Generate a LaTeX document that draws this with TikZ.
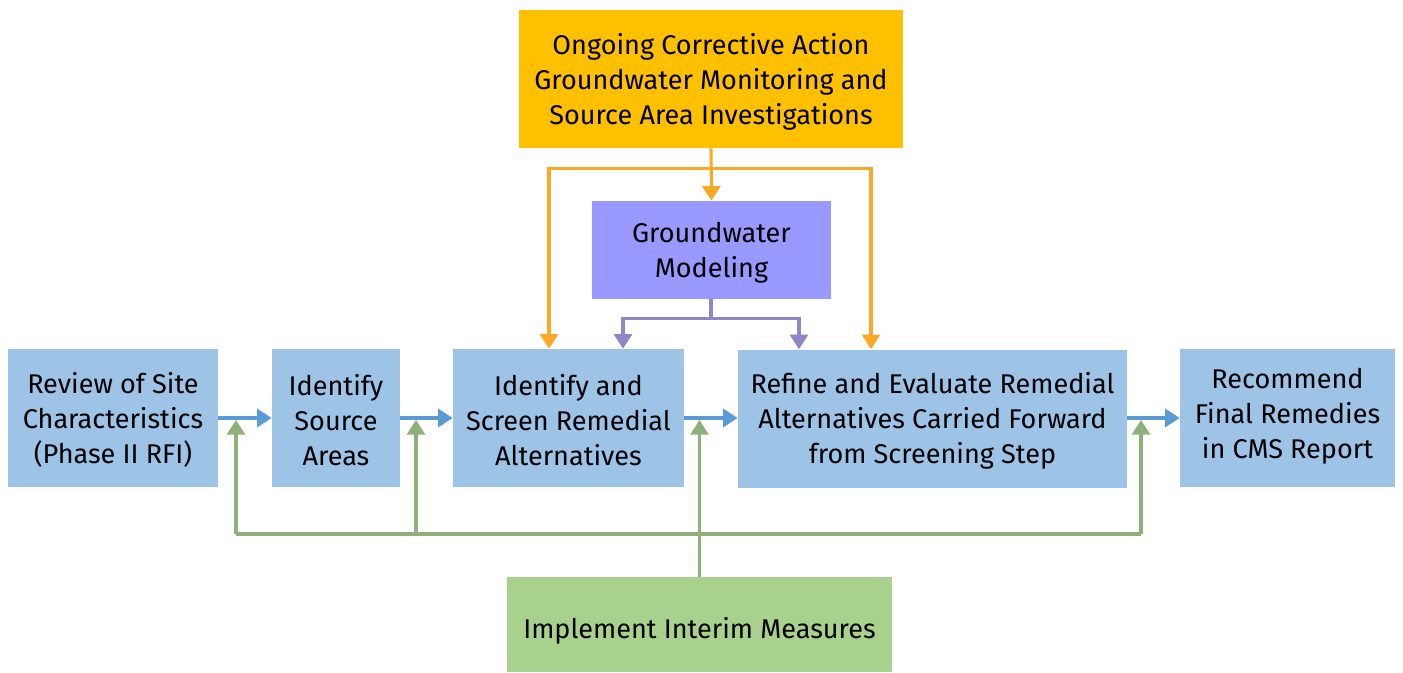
\documentclass[tikz,border=0pt]{standalone}
\usepackage{fontspec}
\setmainfont{Fira Sans}
\usetikzlibrary{arrows.meta}
\definecolor{boxblue}{HTML}{9DC3E6}
\definecolor{arrowblue}{HTML}{5B9BD5}
\definecolor{boxorange}{HTML}{FFC000}
\definecolor{lineorange}{HTML}{FBA824}
\definecolor{boxpurple}{HTML}{9999FF}
\definecolor{linepurple}{HTML}{8E86C6}
\definecolor{boxgreen}{HTML}{A9D18E}
\definecolor{linegreen}{HTML}{8FB07A}
% move a block of text down inside its box while keeping its box size
\newcommand\lowertext[3]{\raisebox{-#1}[\height][\depth]{\parbox{#2}{\centering #3}}}
\tikzset{
  box/.style={draw=none, inner sep=0pt, align=center, text=black,
    font=\fontsize{20.3pt}{26.25pt}\selectfont, minimum height=103.5pt},
  tip/.style={-{Triangle[length=11pt,width=13.5pt]}},
  bline/.style={draw=arrowblue, line width=2.6pt, tip, arrowblue},
  oline/.style={draw=lineorange, line width=2.3pt, lineorange},
  pline/.style={draw=linepurple, line width=2.3pt, linepurple},
  gline/.style={draw=linegreen, line width=2.3pt, linegreen},
}
\begin{document}
\begin{tikzpicture}[x=0.75pt, y=-0.75pt]
\useasboundingbox (0,0) rectangle (1403,672);
% boxes
\node[box, fill=boxorange, minimum width=288pt] (top) at (711,79)
  {\lowertext{2.25pt}{280pt}{Ongoing Corrective Action\\Groundwater Monitoring and\\Source Area Investigations}};
\node[box, fill=boxpurple, minimum width=179.25pt, minimum height=73.5pt] (gw) at (711.5,250)
  {\lowertext{2.25pt}{170pt}{Groundwater\\Modeling}};
\node[box, fill=boxblue, minimum width=157.5pt] (review) at (113,418)
  {\lowertext{1.5pt}{150pt}{Review of Site\\Characteristics\\(Phase II RFI)}};
\node[box, fill=boxblue, minimum width=96pt] (source) at (336,418)
  {\lowertext{1.5pt}{90pt}{Identify\\Source\\Areas}};
\node[box, fill=boxblue, minimum width=173.25pt] (screen) at (568.5,418)
  {\lowertext{1.5pt}{170pt}{Identify and\\Screen Remedial\\Alternatives}};
\node[box, fill=boxblue, minimum width=291.75pt] (refine) at (932.5,418.5)
  {\lowertext{1.5pt}{285pt}{Refine and Evaluate Remedial\\Alternatives Carried Forward\\from Screening Step}};
\node[box, fill=boxblue, minimum width=161.25pt] (recommend) at (1287.5,418)
  {\lowertext{-1.5pt}{155pt}{Recommend\\Final Remedies\\in CMS Report}};
\node[box, fill=boxgreen, minimum width=288.75pt, minimum height=71.25pt] (impl) at (699.5,624.5)
  {\lowertext{4.5pt}{280pt}{Implement Interim Measures}};
% main flow
\draw[bline] (review.east) -- (source.west);
\draw[bline] (source.east) -- (screen.west);
\draw[bline] (screen.east) -- (screen.east -| refine.west);
\draw[bline] (refine.east |- screen.east) -- (screen.east -| recommend.west);
% ongoing monitoring feeds
\draw[oline, tip] (top.south) -- (gw.north);
\draw[oline, tip] ([yshift=-15pt]top.south) -| ([xshift=-14.625pt]screen.north);
\draw[oline, tip] ([yshift=-15pt]top.south) -| ([xshift=-46.125pt]refine.north);
% modeling feeds
\draw[pline, tip] ([xshift=-0.375pt]gw.south) -- ++(0,19) -| ([xshift=40.875pt]screen.north);
\draw[pline, tip] ([xshift=-0.375pt,yshift=-14.25pt]gw.south) -| ([xshift=-100.125pt]refine.north);
% interim measures
\coordinate (g1) at (236,420);
\coordinate (g2) at (416,420);
\coordinate (g4) at (1141,420);
\coordinate (gbus) at (0,534);
\draw[gline] (g1 |- gbus) -- (g4 |- gbus);
\draw[gline, tip] (g1 |- gbus) -- (g1);
\draw[gline, tip] (g2 |- gbus) -- (g2);
\draw[gline, tip] (g4 |- gbus) -- (g4);
\draw[gline, tip] (impl.north) -- (impl.north |- g1);
\end{tikzpicture}
\end{document}
